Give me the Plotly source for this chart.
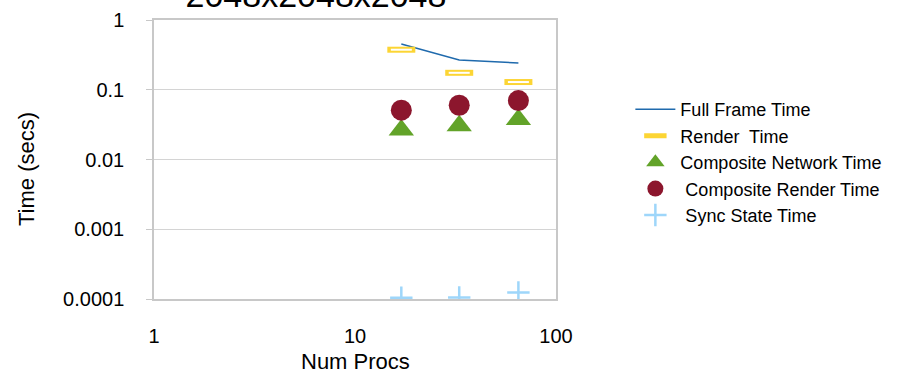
import plotly.graph_objects as go

# Scaling study: 2048^3 volume, timings per frame vs. number of processes
num_procs = [17, 33, 65]
full_frame_time = [0.453, 0.267, 0.242]
render_time = [0.375, 0.175, 0.129]
composite_network_time = [0.0264, 0.0305, 0.0374]
composite_render_time = [0.051, 0.060, 0.070]
sync_state_time = [0.000104, 0.000105, 0.000124]

x_ticks = [1, 10, 100]
y_ticks = [0.0001, 0.001, 0.01, 0.1, 1]
y_tick_text = ["0.0001", "0.001", "0.01", "0.1", "1"]

FONT = "Liberation Sans, Arial, sans-serif"
PLOT_W, PLOT_H = 402, 279

fig = go.Figure()

fig.add_trace(go.Scatter(
    x=num_procs, y=full_frame_time, mode="lines", name="Full Frame Time",
    line=dict(color="#1f6aad", width=1.5),
))
fig.add_trace(go.Scatter(
    x=num_procs, y=render_time, mode="markers", name="Render  Time",
    marker=dict(symbol="line-ew", size=20, color="#fcd534",
                line=dict(color="#fcd534", width=6)),
))
# hollow centre of the render-time bars
fig.add_trace(go.Scatter(
    x=num_procs, y=render_time, mode="markers", showlegend=False,
    hoverinfo="skip",
    marker=dict(symbol="line-ew", size=15, color="white",
                line=dict(color="white", width=2)),
))
fig.add_trace(go.Scatter(
    x=num_procs, y=composite_network_time, mode="markers",
    name="Composite Network Time",
    marker=dict(symbol="triangle-up", size=22, color="#62a329"),
))
fig.add_trace(go.Scatter(
    x=num_procs, y=composite_render_time, mode="markers",
    name=" Composite Render Time",
    marker=dict(symbol="circle", size=21, color="#8c162d"),
))
fig.add_trace(go.Scatter(
    x=num_procs, y=sync_state_time, mode="markers", name=" Sync State Time",
    marker=dict(symbol="cross-thin", size=16, color="#9ed6fa",
                line=dict(color="#9ed6fa", width=2.5)),
))

fig.update_layout(
    width=905, height=373,
    margin=dict(l=154, r=349, t=20, b=74, autoexpand=False),
    paper_bgcolor="white", plot_bgcolor="white",
    font=dict(family=FONT, color="black", size=19),
    title=dict(text="2048x2048x2048", x=316 / 905, xanchor="center",
               y=1 - 7 / 373, yanchor="bottom", yref="container",
               font=dict(size=34, family=FONT, color="black")),
    legend=dict(x=1.185, y=0.745, xanchor="left", yanchor="top",
                font=dict(size=18, family=FONT), itemwidth=40,
                tracegroupgap=0, bgcolor="rgba(0,0,0,0)"),
    showlegend=True,
    annotations=[
        dict(text="Time (secs)", xref="paper", yref="paper",
             x=(26 - 154) / PLOT_W, y=(299 - 169) / PLOT_H,
             xanchor="center", yanchor="middle", textangle=-90,
             showarrow=False,
             font=dict(size=22, family=FONT, color="black")),
        dict(text="Num Procs", xref="paper", yref="paper",
             x=0.5, y=(299 - 361) / PLOT_H,
             xanchor="center", yanchor="middle", showarrow=False,
             font=dict(size=22, family=FONT, color="black")),
    ],
)

fig.update_xaxes(
    type="log", range=[0, 2], tickvals=x_ticks,
    ticktext=[str(v) for v in x_ticks], automargin=False,
    showgrid=False, showline=True, linecolor="#c8c8c8", linewidth=1.5,
    mirror=True, ticks="", ticklabelstandoff=18,
    tickfont=dict(size=20),
)
fig.update_yaxes(
    type="log", range=[-4, 0], tickvals=y_ticks, ticktext=y_tick_text,
    automargin=False,
    showgrid=True, gridcolor="#d4d4d4", gridwidth=1.2,
    showline=True, linecolor="#c8c8c8", linewidth=1.5, mirror=True,
    ticks="outside", ticklen=6, tickcolor="#c8c8c8",
    ticklabelstandoff=18, tickfont=dict(size=20),
    zeroline=False,
)

fig.write_html("out.html")
